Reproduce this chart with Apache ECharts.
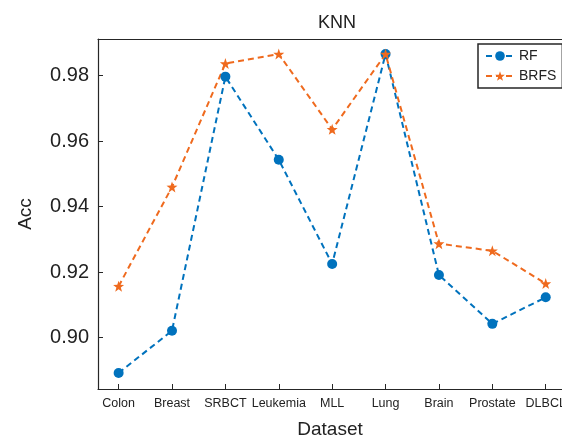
<!DOCTYPE html>
<html>
<head>
<meta charset="utf-8">
<script src="https://cdn.jsdelivr.net/npm/echarts@6/dist/echarts.min.js"></script>
<style>
  html, body { margin: 0; padding: 0; background: #fff; }
  #chart { width: 562px; height: 437px; }
</style>
</head>
<body>
<div id="chart"></div>
<script>
// 数据
var datasets = ['Colon', 'Breast', 'SRBCT', 'Leukemia', 'MLL', 'Lung', 'Brain', 'Prostate', 'DLBCL'];
var rfAcc = [0.8892, 0.9021, 0.9797, 0.9543, 0.9225, 0.9866, 0.9191, 0.9042, 0.9123];
var brfsAcc = [0.9157, 0.9460, 0.9837, 0.9866, 0.9636, 0.9866, 0.9287, 0.9265, 0.9165];
var yTicks = [0.90, 0.92, 0.94, 0.96, 0.98];
var xTicks = [1, 2, 3, 4, 5, 6, 7, 8, 9];

var font = 'Arial, "Liberation Sans", sans-serif';
var axisColor = '#262626';
var blue = '#0072BD', orange = '#EF6A1E';
// 五角星
var star = 'path://M0,-10 L2.35,-3.24 L9.51,-3.09 L3.8,1.24 L5.88,8.09 L0,4 L-5.88,8.09 L-3.8,1.24 L-9.51,-3.09 L-2.35,-3.24 Z';

function toPairs(arr) {
    return arr.map(function (v, i) { return [i + 1, v]; });
}

var chart = echarts.init(document.getElementById('chart'));
chart.setOption({
    backgroundColor: '#fff',
    animation: false,
    title: {
        text: 'KNN',
        left: 332,
        top: 9,
        textAlign: 'center',
        textStyle: {fontFamily: font, fontSize: 18, fontWeight: 'normal', color: '#222'}
    },
    grid: {left: 98, right: 0, top: 39, bottom: 48, outerBoundsMode: 'none', containLabel: false},
    legend: {
        orient: 'vertical',
        left: 478, top: 44,
        padding: [5, 6, 5, 7],
        itemGap: 6,
        itemWidth: 28,
        itemHeight: 12,
        backgroundColor: '#fff',
        borderColor: axisColor,
        borderWidth: 1.5,
        borderRadius: 0,
        textStyle: {fontFamily: font, fontSize: 14, color: '#222'},
        data: ['RF', 'BRFS']
    },
    xAxis: [{
        type: 'value',
        min: 0.614, max: 9.305,
        name: 'Dataset',
        nameLocation: 'middle',
        nameGap: 31,
        nameTextStyle: {fontFamily: font, fontSize: 19, color: '#222'},
        axisLine: {lineStyle: {color: axisColor, width: 1.2}},
        axisTick: {inside: true, length: 5, customValues: xTicks, lineStyle: {color: axisColor}},
        axisLabel: {
            customValues: xTicks, margin: 8,
            fontFamily: font, fontSize: 12.5, color: '#222',
            formatter: function (v) { return datasets[Math.round(v) - 1]; }
        },
        splitLine: {show: false}
    }, {
        // 上边框
        type: 'value',
        position: 'top',
        min: 0, max: 1,
        axisLine: {show: true, lineStyle: {color: axisColor, width: 1.2}},
        axisTick: {show: false},
        axisLabel: {show: false},
        splitLine: {show: false}
    }],
    yAxis: {
        type: 'value',
        min: 0.8843, max: 0.9912,
        name: 'Acc',
        nameLocation: 'middle',
        nameGap: 63,
        nameTextStyle: {fontFamily: font, fontSize: 19, color: '#222'},
        axisLine: {show: true, lineStyle: {color: axisColor, width: 1.2}},
        axisTick: {show: true, inside: true, length: 5, customValues: yTicks, lineStyle: {color: axisColor}},
        axisLabel: {
            customValues: yTicks, margin: 9,
            fontFamily: font, fontSize: 20, color: '#222',
            formatter: function (v) { return v.toFixed(2); }
        },
        splitLine: {show: false}
    },
    series: [{
        name: 'RF',
        type: 'line',
        data: toPairs(rfAcc),
        symbol: 'circle',
        symbolSize: 10,
        itemStyle: {color: blue},
        lineStyle: {color: blue, width: 2, type: [6, 4]}
    }, {
        name: 'BRFS',
        type: 'line',
        data: toPairs(brfsAcc),
        symbol: star,
        symbolSize: 11,
        itemStyle: {color: orange},
        lineStyle: {color: orange, width: 2, type: [6, 4]}
    }]
});
</script>
</body>
</html>
